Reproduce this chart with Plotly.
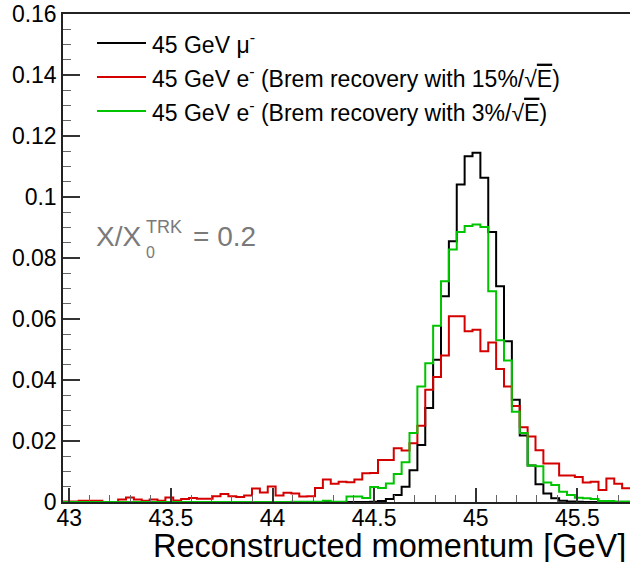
import numpy as np
import plotly.graph_objects as go

# ---------------- data ----------------
BIN_LO = 42.969
BIN_W = 0.03875
N_BINS = 72
X_RANGE = [42.969, 45.759]
Y_RANGE = [0.0, 0.16]

mu_45 = [0]*39 + [
    0.0001, 0.0003, 0.001, 0.0023, 0.005, 0.0104, 0.0187, 0.0308, 0.0466,
    0.0675, 0.0855, 0.1041, 0.1134, 0.1145, 0.1063, 0.0885, 0.0707, 0.0527,
    0.0335, 0.0218, 0.012, 0.0058, 0.0028, 0.0012, 0.0004, 0.0002, 0.0001,
    0, 0, 0, 0, 0, 0]

e_15 = [
    0.0002, 0.0002, 0.0004, 0.0004, 0.0004, 0.0, 0.0, 0.0008, 0.0015, 0.0008,
    0.0004, 0.0008, 0.0004, 0.0015, 0.0005, 0.001, 0.0013, 0.0011, 0.0011, 0.0019,
    0.0026, 0.0019, 0.0016, 0.0021, 0.0044, 0.0031, 0.0051, 0.0021, 0.003, 0.0028,
    0.0018, 0.0019, 0.0046, 0.0074, 0.006, 0.0066, 0.0065, 0.0074, 0.0094, 0.0095,
    0.0138, 0.0138, 0.0176, 0.0169, 0.0193, 0.025, 0.0368, 0.041, 0.048, 0.0609,
    0.0609, 0.056, 0.0565, 0.0494, 0.0523, 0.0436, 0.0379, 0.0315, 0.0245, 0.0215,
    0.017, 0.0126, 0.0126, 0.0087, 0.0087, 0.0082, 0.0064, 0.0066, 0.0039, 0.0077,
    0.006, 0.0045]

e_3 = [0]*29 + [
    0.0001, 0.0001, 0.0001, 0.0001, 0.0004, 0.0001, 0.0001, 0.0018, 0.0018, 0.0013,
    0.0049, 0.0046, 0.0061, 0.0092, 0.013, 0.0226, 0.0379, 0.0455, 0.0578, 0.0724,
    0.0828, 0.0885, 0.0905, 0.091, 0.0902, 0.0691, 0.053, 0.0464, 0.0296, 0.0226,
    0.012, 0.0117, 0.0064, 0.0056, 0.0034, 0.0023, 0.0014, 0.0012, 0.001, 0.0003,
    0.0003, 0.0002, 0.0002]

series_names = ["45 GeV μ<sup>-</sup>",
                "45 GeV e<sup>-</sup> (Brem recovery with 15%/√<span style='text-decoration:overline'>E</span>)",
                "45 GeV e<sup>-</sup> (Brem recovery with 3%/√<span style='text-decoration:overline'>E</span>)"]
series_vals = [mu_45, e_15, e_3]
series_colors = ["#000000", "#d40000", "#00c400"]

x_tickvals = [43, 43.5, 44, 44.5, 45, 45.5]
x_ticktext = ["43", "43.5", "44", "44.5", "45", "45.5"]
y_tickvals = [0, 0.02, 0.04, 0.06, 0.08, 0.10, 0.12, 0.14, 0.16]
y_ticktext = ["0", "0.02", "0.04", "0.06", "0.08", "0.1", "0.12", "0.14", "0.16"]

x_title = "Reconstructed momentum [GeV]"
FONT = "Liberation Sans, Arial, Helvetica, sans-serif"

# ---------------- figure ----------------
W, H = 630, 562
L, R, T, B = 63, 0, 14, 60
pw, ph = W - L - R, H - T - B

def px_x(p):
    return (p - L) / pw

def px_y(p):
    return (T + ph - p) / ph

edges = BIN_LO + BIN_W * np.arange(N_BINS + 1)

fig = go.Figure()
for name, vals, col in zip(series_names, series_vals, series_colors):
    v = np.asarray(vals, dtype=float)
    fig.add_trace(go.Scatter(
        x=edges, y=np.append(v, v[-1]), mode="lines", line_shape="hv",
        line=dict(color=col, width=2), name=name, showlegend=False,
        hoverinfo="skip"))

# manual legend
legend_rows = [43, 77, 111]
for name, col, ry in zip(series_names, series_colors, legend_rows):
    fig.add_shape(type="line", xref="paper", yref="paper",
                  x0=px_x(97), x1=px_x(146), y0=px_y(ry), y1=px_y(ry),
                  line=dict(color=col, width=2))
    fig.add_annotation(xref="paper", yref="paper", x=px_x(150), y=px_y(ry),
                       xanchor="left", yanchor="middle", text=name,
                       showarrow=False, font=dict(size=23, color="black", family=FONT))

gray = "#7a7a7a"
fig.add_annotation(xref="paper", yref="paper", x=px_x(94), y=px_y(236),
                   xanchor="left", yanchor="middle", text="X/X", showarrow=False,
                   font=dict(size=28, color=gray, family=FONT))
fig.add_annotation(xref="paper", yref="paper", x=px_x(144), y=px_y(227),
                   xanchor="left", yanchor="middle", text="TRK", showarrow=False,
                   font=dict(size=18, color=gray, family=FONT))
fig.add_annotation(xref="paper", yref="paper", x=px_x(144), y=px_y(252),
                   xanchor="left", yanchor="middle", text="0", showarrow=False,
                   font=dict(size=16, color=gray, family=FONT))
fig.add_annotation(xref="paper", yref="paper", x=px_x(191), y=px_y(236),
                   xanchor="left", yanchor="middle", text="= 0.2", showarrow=False,
                   font=dict(size=28, color=gray, family=FONT))

# axis title
fig.add_annotation(xref="paper", yref="paper", x=px_x(628), y=px_y(546),
                   xanchor="right", yanchor="middle", text=x_title, showarrow=False,
                   font=dict(size=32.5, color="black", family=FONT))

fig.update_layout(
    width=W, height=H, margin=dict(l=L, r=R, t=T, b=B, pad=0),
    paper_bgcolor="white", plot_bgcolor="white",
    font=dict(family=FONT, color="black"),
    xaxis=dict(range=X_RANGE, showgrid=False, zeroline=False,
               showline=True, linecolor="#222", linewidth=1.5, mirror=True,
               tickmode="array", tickvals=x_tickvals, ticktext=x_ticktext,
               ticks="inside", ticklen=14, tickwidth=1.5, tickcolor="#333",
               ticklabelstandoff=-5,
               tickfont=dict(size=23, color="black"),
               minor=dict(dtick=0.1, tick0=43, ticks="inside", ticklen=7,
                          tickwidth=1.2, tickcolor="#666")),
    yaxis=dict(range=Y_RANGE, showgrid=False, zeroline=False,
               showline=True, linecolor="#222", linewidth=1.5,
               tickmode="array", tickvals=y_tickvals, ticktext=y_ticktext,
               ticks="inside", ticklen=17, tickwidth=1.5, tickcolor="#333",
               tickfont=dict(size=23, color="black"),
               minor=dict(dtick=0.005, tick0=0, ticks="inside", ticklen=8,
                          tickwidth=1.2, tickcolor="#666")),
)

fig.write_html("out.html")
